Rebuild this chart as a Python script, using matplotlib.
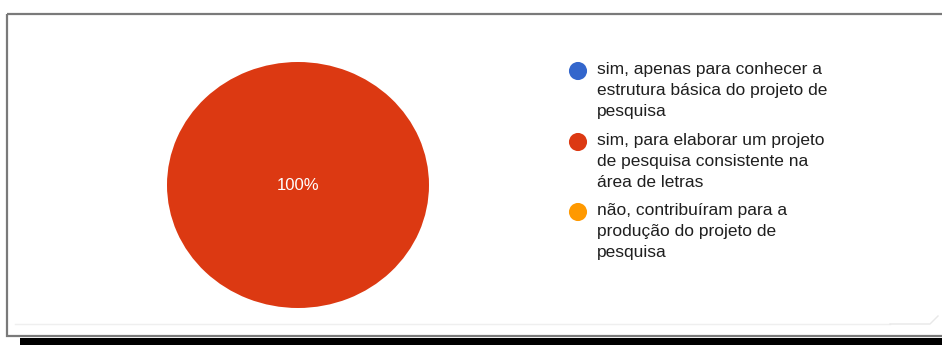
import matplotlib.pyplot as plt
from matplotlib.patches import Rectangle

labels = [
    "sim, apenas para conhecer a\nestrutura básica do projeto de\npesquisa",
    "sim, para elaborar um projeto\nde pesquisa consistente na\nárea de letras",
    "não, contribuíram para a\nprodução do projeto de\npesquisa",
]
values = [0, 100, 0]
colors = ["#3366cc", "#dc3912", "#ff9900"]

W, H = 942, 345
plt.rcParams['font.family'] = ['Liberation Sans', 'DejaVu Sans']

fig = plt.figure(figsize=(W / 100, H / 100), dpi=100)
fig.patch.set_facecolor('white')

# overlay in pixel coords (y down)
bg = fig.add_axes([0, 0, 1, 1])
bg.set_xlim(0, W)
bg.set_ylim(H, 0)
bg.axis('off')

# frame of the screenshot
bg.add_patch(Rectangle((7, 14), W, 322, facecolor='none', edgecolor='#7a7a7a', lw=1.6))
bg.plot([15, 890], [324, 324], color='#efefef', lw=1)
bg.plot([890, 930, 938], [324, 324, 316], color='#e8e8e8', lw=1)
bg.add_patch(Rectangle((20, 338), W, 10, facecolor='black', edgecolor='none'))

# pie (slightly wider than tall, like the screenshot)
cx, cy, rx, ry = 298, 185, 131, 123
ax = fig.add_axes([(cx - rx) / W, (H - cy - ry) / H, 2 * rx / W, 2 * ry / H])
ax.pie(values, colors=colors, startangle=90, counterclock=False,
       autopct=lambda p: '%d%%' % round(p) if p > 0 else '',
       pctdistance=0, textprops={'color': 'white', 'fontsize': 12})
ax.set_xlim(-1, 1)
ax.set_ylim(-1, 1)
ax.set_aspect('auto')

# legend
ys = [71, 142, 212]
for lab, col, y in zip(labels, colors, ys):
    bg.scatter([578], [y], s=170, color=col, edgecolors='none')
    bg.text(597, y - 9, lab, fontsize=12.5, color='#1f1f1f', va='top',
            ha='left', linespacing=1.52)

fig.savefig('out.png', dpi=100)
